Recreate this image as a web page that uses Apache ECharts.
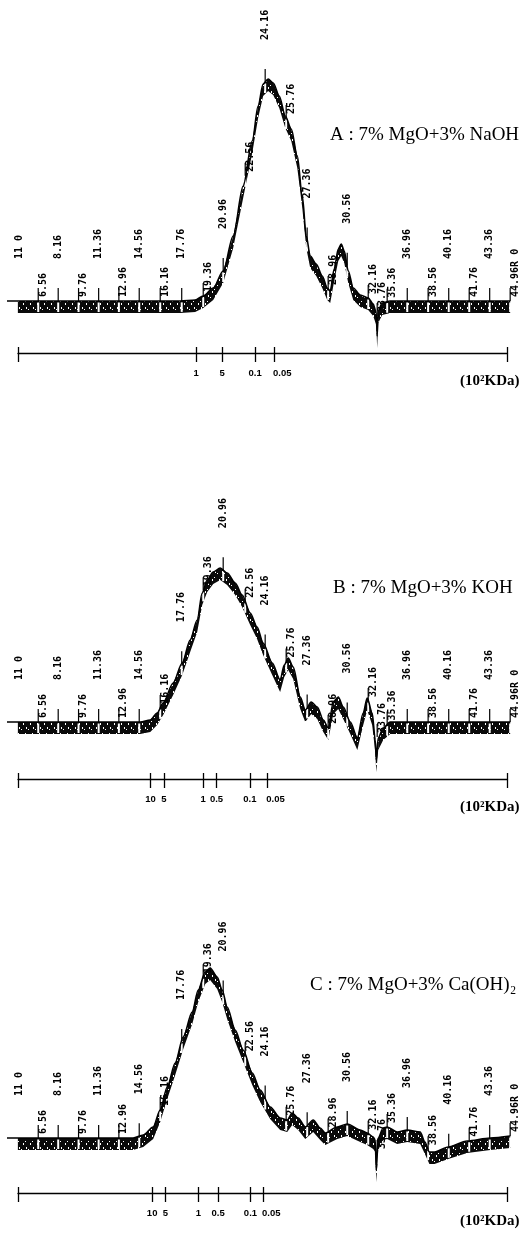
<!DOCTYPE html>
<html><head><meta charset="utf-8">
<script src="https://cdn.jsdelivr.net/npm/echarts@6/dist/echarts.min.js"></script>
<style>html,body{margin:0;padding:0;background:#fff}#c{width:524px;height:1233px}</style>
</head><body><div id="c"></div>
<script>
// ---- event markers printed by the integrator (label text, elution position in min) ----
const markerLabels = ['11 0','6.56','8.16','9.76','11.36','12.96','14.56','16.16','17.76','19.36','20.96','22.56','24.16','25.76','27.36','28.96','30.56','32.16','33.76','35.36','36.96','38.56','40.16','41.76','43.36','44.96R 0'];
const markerPos = [5.05,6.54,8.10,9.69,11.26,12.84,14.43,16.07,17.75,19.43,20.99,22.71,24.27,25.91,27.55,29.19,30.68,32.32,33.02,33.80,35.37,37.00,38.61,40.21,41.81,43.41];

// ---- chromatogram A : 7% MgO + 3% NaOH ----
const timeA = [4.1,17.63,18.80,19.43,20.21,20.99,21.77,22.55,23.26,23.72,24.11,24.50,24.90,25.37,25.84,26.31,26.78,27.17,27.48,27.79,28.26,28.73,29.12,29.35,29.66,29.98,30.21,30.45,30.76,31.15,31.70,32.32,32.71,32.95,33.02,33.10,33.41,34.04,43.41];
const signalA = [0,0,1,5,13,30,65,115,160,195,217,222,218,205,185,172,145,105,65,45,37,25,13,10,32,52,57,50,30,13,6,3,-3,-12,-35,-10,-2,0,0];

// ---- chromatogram B : 7% MgO + 3% KOH ----
const timeB = [4.1,14.51,15.29,15.83,16.30,17.08,17.79,18.41,18.96,19.35,19.74,20.21,20.76,21.30,21.93,22.47,23.10,23.64,24.11,24.82,25.44,25.76,26.07,26.46,27.01,27.40,27.87,28.34,28.81,29.20,29.59,29.98,30.37,30.92,31.47,31.93,32.24,32.63,32.87,32.95,33.10,33.49,34.04,43.41];
const signalB = [0,0,2,9,19,39,59,82,102,129,142,150,154,149,139,127,109,95,79,59,42,57,64,55,25,12,20,15,2,-6,20,25,15,0,-16,9,24,9,-18,-38,-16,-6,0,0];

// ---- chromatogram C : 7% MgO + 3% Ca(OH)2 ----
const timeC = [4.1,13.95,14.74,15.52,16.07,16.62,17.24,17.87,18.57,19.04,19.59,19.97,20.52,20.91,21.30,21.93,22.55,23.26,23.88,24.66,25.44,25.99,26.38,26.85,27.40,28.02,28.57,28.96,29.90,30.68,31.70,32.24,32.71,32.87,32.95,33.10,33.49,33.80,34.58,35.37,36.38,36.75,37.10,37.50,38.57,40.05,41.85,43.41];
const signalC = [0,0,3,11,28,51,75,101,126,148,166,170,161,148,131,108,88,65,48,31,20,18,25,20,11,18,10,5,11,14,8,5,1,-2,-32,0,10,11,6,8,6,-4,-14,-14,-9,-3,0,2];

// ---- molecular-weight calibration bars (10^2 KDa) ----
const mwLabelsA = ['1','5','0.1','0.05'];
const mwPosA = [18.87,20.90,23.48,24.96];
const mwLabelsB = ['10','5','1','0.5','0.1','0.05'];
const mwPosB = [15.31,16.35,19.43,20.47,23.07,24.43];
const mwLabelsC = ['10','5','1','0.5','0.1','0.05'];
const mwPosC = [15.44,16.48,19.06,20.59,23.12,24.10];
const mwStart = 4.96, mwEnd = 43.2;

const titles = ['A : 7% MgO+3% NaOH', 'B : 7% MgO+3% KOH', 'C : 7% MgO+3% Ca(OH)\u2082'];
const unitLabel = '(10\u00B2KDa)';

// ---------------- layout (pixels) ----------------
const T_MIN = 4.1, T_MAX = 44.0, PXPM = 12.8, X0 = 7;
const RIGHT = 524 - (X0 + (T_MAX - T_MIN) * PXPM);
const Y_MIN = -45, BAND = 12;
const layout = [
  {base: 301, top: 70, mw: 353, tx: 330, ty: 137},
  {base: 722, top: 560, mw: 779, tx: 333, ty: 590},
  {base: 1138, top: 960, mw: 1193, tx: 310, ty: 987}
];
const MW_LEFT = X0 + (mwStart - T_MIN) * PXPM;
const MW_RIGHT = 524 - (X0 + (mwEnd - T_MIN) * PXPM);

function zip(t, s) { return t.map((x, i) => [x, s[i]]); }
const curves = [zip(timeA, signalA), zip(timeB, signalB), zip(timeC, signalC)];
const mwSets = [[mwPosA, mwLabelsA], [mwPosB, mwLabelsB], [mwPosC, mwLabelsC]];

function interp(curve, t) {
  for (let i = 1; i < curve.length; i++) {
    if (t <= curve[i][0]) {
      const a = curve[i - 1], b = curve[i];
      const f = (t - a[0]) / (b[0] - a[0] || 1);
      return a[1] + f * (b[1] - a[1]);
    }
  }
  return curve[curve.length - 1][1];
}

// dark speckled texture of the integrator band
const pat = document.createElement('canvas');
pat.width = 7; pat.height = 12;
(function () {
  const g = pat.getContext('2d');
  g.fillStyle = '#0a0a0a'; g.fillRect(0, 0, 7, 12);
  g.fillStyle = '#fff';
  [[2,3,1,2],[5,7,1,2],[0,9,1,1],[4,1,1,1]].forEach(r => g.fillRect(r[0], r[1], r[2], r[3]));
})();
const patFill = {type: 'pattern', image: pat, repeat: 'repeat'};

const grid = [], xAxis = [], yAxis = [], series = [], graphic = [];
const monoFont = 'bold 10px "DejaVu Sans Mono", monospace';
const mwFont = 'bold 9.5px "Liberation Sans", sans-serif';

layout.forEach((L, k) => {
  const curve = curves[k];
  grid.push({left: X0, right: RIGHT, top: L.top, height: L.base - Y_MIN - L.top});
  xAxis.push({gridIndex: 2 * k, type: 'value', min: T_MIN, max: T_MAX, show: false});
  yAxis.push({gridIndex: 2 * k, type: 'value', min: Y_MIN, max: L.base - L.top, show: false});
  grid.push({left: MW_LEFT, right: MW_RIGHT, top: L.mw - 10, height: 10});
  const [mp, ml] = mwSets[k];
  const ticks = [mwStart].concat(mp, [mwEnd]);
  xAxis.push({
    gridIndex: 2 * k + 1, type: 'value', min: mwStart, max: mwEnd, position: 'bottom',
    axisLine: {show: true, lineStyle: {color: '#000', width: 1.3}},
    axisTick: {show: true, customValues: ticks, length: 9, lineStyle: {color: '#000', width: 1.3}},
    axisLabel: {show: false}, splitLine: {show: false}
  });
  xAxis.push({
    gridIndex: 2 * k + 1, type: 'value', min: mwStart, max: mwEnd, position: 'bottom',
    axisLine: {show: false},
    axisTick: {show: true, inside: true, customValues: ticks, length: 6, lineStyle: {color: '#000', width: 1.3}},
    axisLabel: {show: false}, splitLine: {show: false}
  });
  yAxis.push({gridIndex: 2 * k + 1, type: 'value', min: 0, max: 1, show: false});

  const xi = xAxis.length - 3;
  const yi = 2 * k;
  const bandStart = markerPos[0] - 0.1;
  series.push({
    type: 'custom', xAxisIndex: xi, yAxisIndex: yi, clip: false, z: 1, silent: true,
    data: [curve[0]],
    renderItem: (params, api) => {
      if (params.dataIndex !== 0) return null;
      const pts = [[bandStart, interp(curve, bandStart)]].concat(curve.filter(p => p[0] > bandStart));
      const top = pts.map(p => api.coord(p));
      const bot = top.slice().reverse().map(q => [q[0], q[1] + BAND]);
      return {type: 'polygon', shape: {points: top.concat(bot)}, style: {fill: patFill}};
    }
  });
  series.push({
    type: 'custom', xAxisIndex: xi, yAxisIndex: yi, clip: false, z: 2, silent: true,
    data: markerPos.map((p, i) => [p, i]),
    renderItem: (params, api) => {
      const i = params.dataIndex, t = api.value(0);
      let v = interp(curve, t); if (v < -15) v = -15;
      const p = api.coord([t, v]);
      const lbl = markerLabels[i];
      const high = (i % 2 === 0) && lbl !== '33.76';
      const ch = [];
      if (i > 0) {
        ch.push({type: 'rect', shape: {x: p[0] - 1, y: p[1] + 1.5, width: 2, height: BAND - 2.5}, style: {fill: '#fff'}});
        ch.push({type: 'line', shape: {x1: p[0], y1: p[1], x2: p[0], y2: p[1] - 13}, style: {stroke: '#000', lineWidth: 1.2}});
      }
      ch.push({type: 'text', x: high ? p[0] : p[0] + 5, y: high ? p[1] - 42 : p[1] - 4, rotation: Math.PI / 2,
        style: {text: lbl, font: monoFont, fill: '#000', align: 'left', verticalAlign: 'middle'}});
      return {type: 'group', children: ch};
    }
  });
  series.push({
    type: 'line', xAxisIndex: xi, yAxisIndex: yi, z: 3, data: curve, showSymbol: false,
    smooth: 0.3, smoothMonotone: 'x', lineStyle: {color: '#000', width: 1.6}, silent: true
  });
  // calibration labels under the MW bar
  series.push({
    type: 'custom', xAxisIndex: xAxis.length - 2, yAxisIndex: yAxis.length - 1, clip: false, silent: true,
    data: mp.map((p, i) => [p, 0, i]),
    renderItem: (params, api) => {
      const c = api.coord([api.value(0), 0]);
      const s = ml[params.dataIndex];
      const last = params.dataIndex === ml.length - 1;
      return {type: 'text', x: last ? c[0] - 1 : c[0], y: c[1] + 15,
        style: {text: s, font: mwFont, fill: '#000', align: last ? 'left' : 'center', verticalAlign: 'top'}};
    }
  });

  graphic.push({type: 'text', left: L.tx, top: L.ty - 11,
    style: {text: titles[k], font: '19px "Liberation Serif", "DejaVu Serif", serif', fill: '#000'}});
  graphic.push({type: 'text', left: 460, top: L.mw + 21,
    style: {text: unitLabel, font: 'bold 15px "Liberation Serif", "DejaVu Serif", serif', fill: '#000'}});
});

const chart = echarts.init(document.getElementById('c'), null, {renderer: 'canvas'});
chart.setOption({animation: false, backgroundColor: '#fff', grid, xAxis, yAxis, series, graphic});
</script></body></html>
